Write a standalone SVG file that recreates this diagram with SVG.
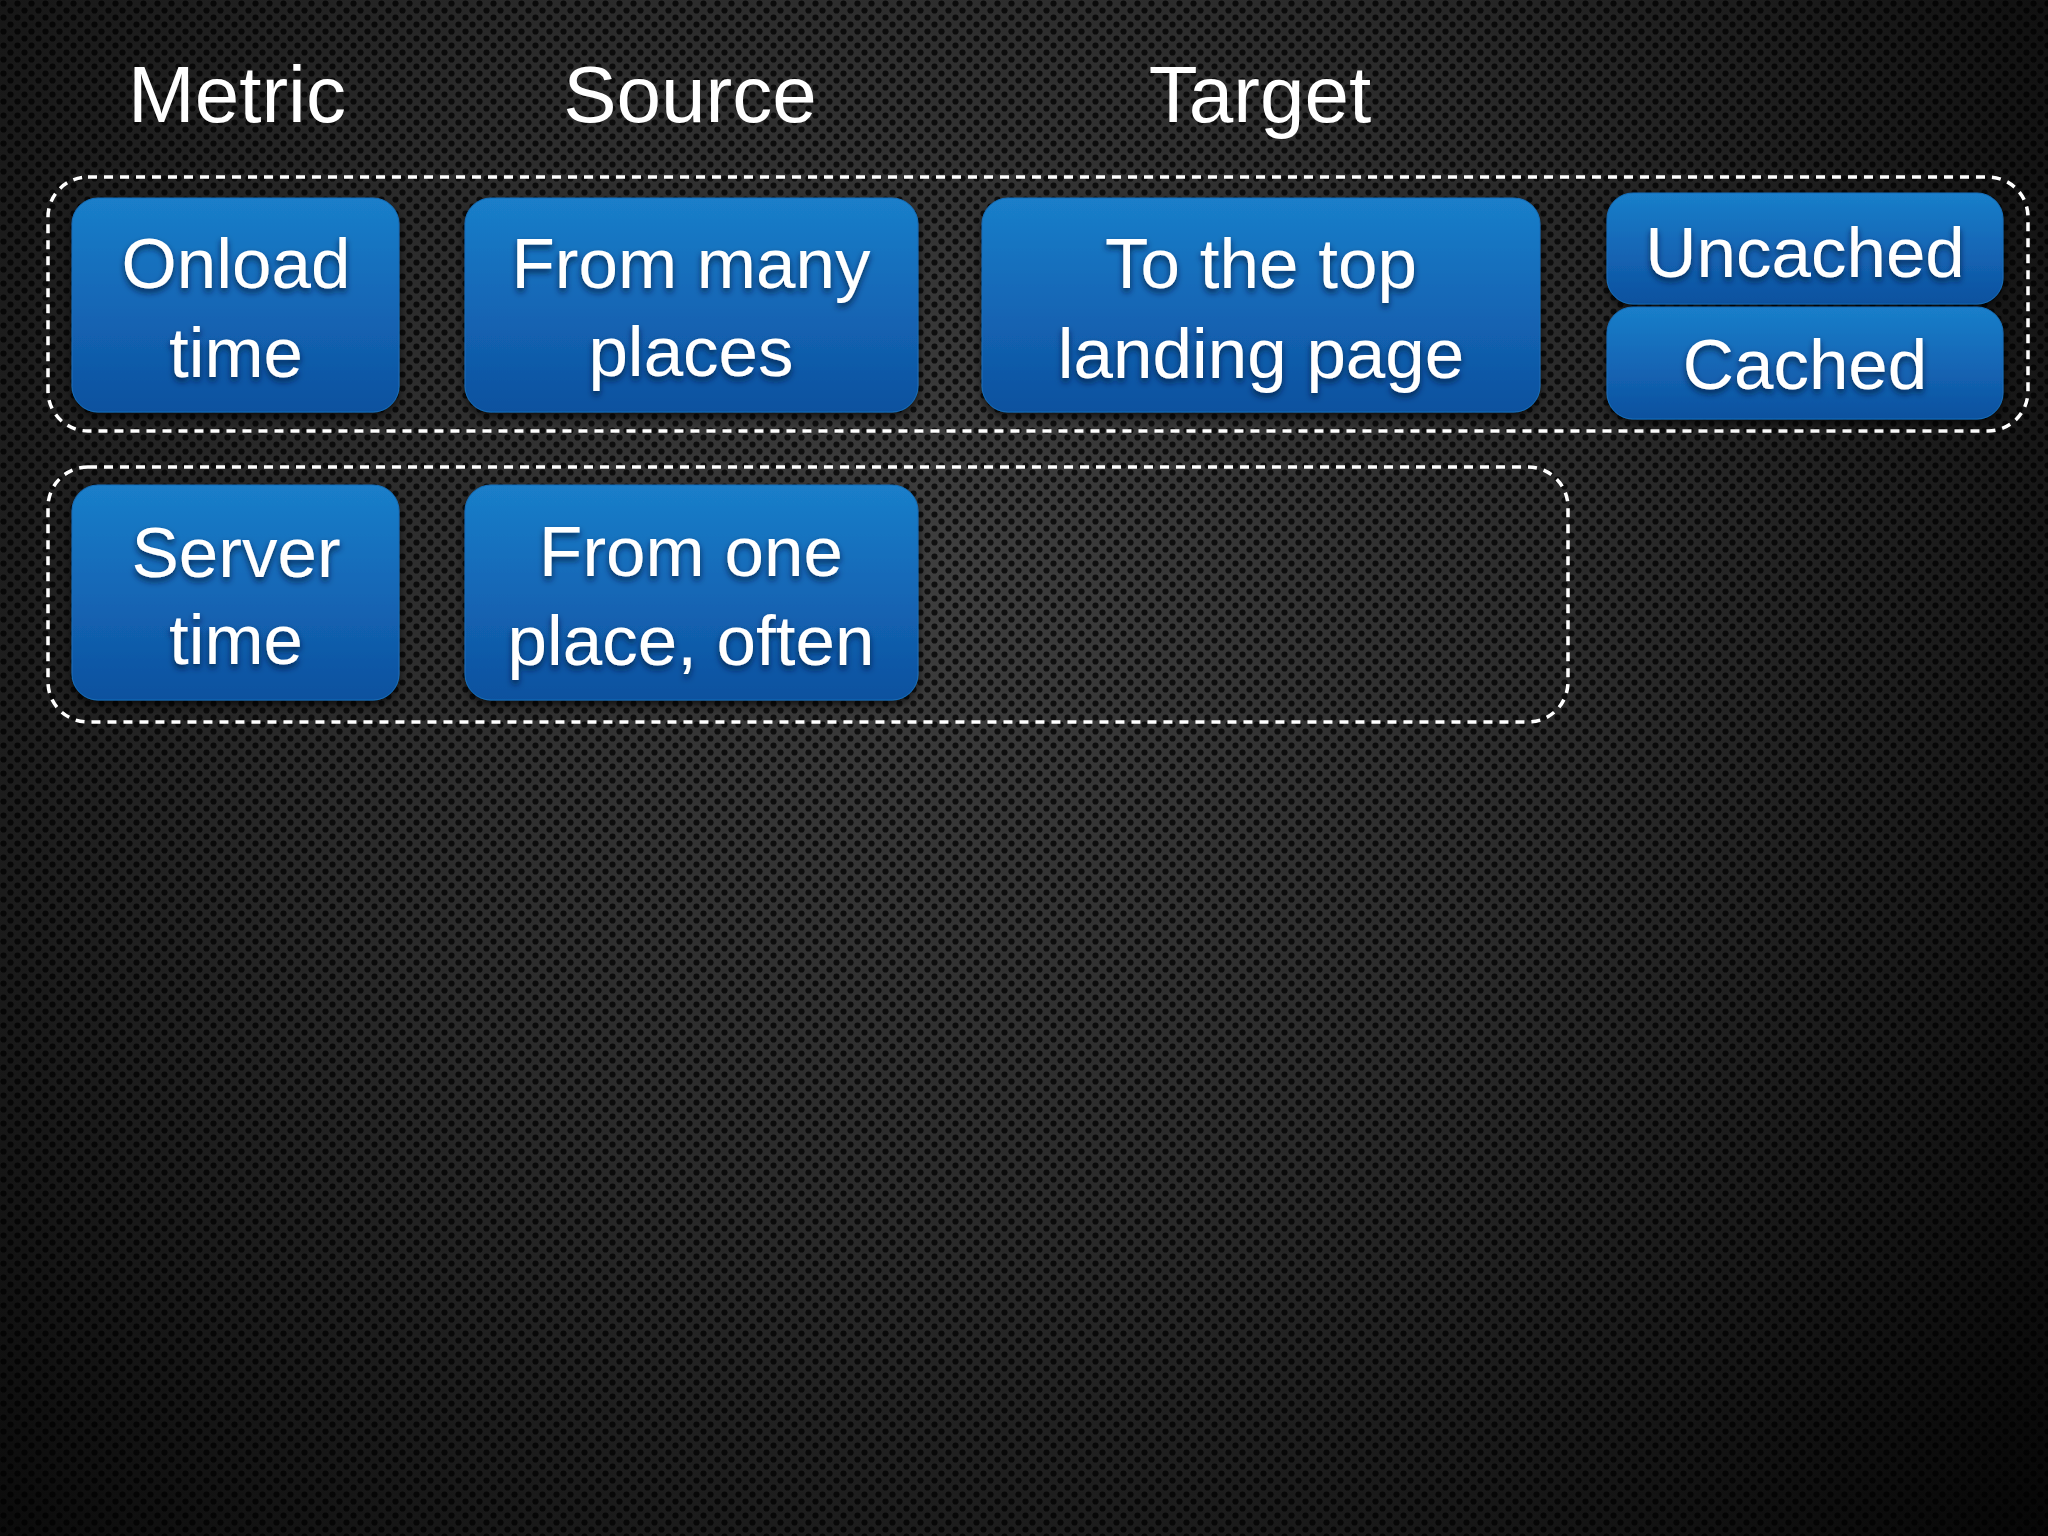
<svg xmlns="http://www.w3.org/2000/svg" width="2048" height="1536" viewBox="0 0 2048 1536">
  <defs>
    <radialGradient id="bg" gradientUnits="userSpaceOnUse" cx="950" cy="560" r="1500">
      <stop offset="0" stop-color="#3e3e3e"/>
      <stop offset="0.45" stop-color="#2a2a2a"/>
      <stop offset="0.8" stop-color="#121212"/>
      <stop offset="1" stop-color="#050505"/>
    </radialGradient>
    <pattern id="holes" patternUnits="userSpaceOnUse" width="14" height="14">
      <circle cx="3.5" cy="3.5" r="3.1" fill="#000" fill-opacity="0.75"/>
      <circle cx="10.5" cy="10.5" r="3.1" fill="#000" fill-opacity="0.75"/>
    </pattern>
    <linearGradient id="boxfill" x1="0" y1="0" x2="0" y2="1">
      <stop offset="0" stop-color="#1a7fca"/>
      <stop offset="0.5" stop-color="#1467b6"/>
      <stop offset="1" stop-color="#0d519f"/>
    </linearGradient>
    <filter id="boxshadow" x="-10%" y="-10%" width="120%" height="130%">
      <feDropShadow dx="0" dy="4" stdDeviation="4" flood-color="#000" flood-opacity="0.7"/>
    </filter>
    <filter id="textshadow" x="-10%" y="-20%" width="120%" height="150%">
      <feDropShadow dx="0" dy="4" stdDeviation="3" flood-color="#001a3a" flood-opacity="0.8"/>
    </filter>
  </defs>
  <style>
    .head { font-family: "Liberation Sans", Arial, sans-serif; font-size: 80px; fill: #ffffff; text-anchor: middle; }
    .lbl { font-family: "Liberation Sans", Arial, sans-serif; font-size: 71px; fill: #ffffff; text-anchor: middle; filter: url(#textshadow); }
    .box { fill: url(#boxfill); stroke: #166db9; stroke-width: 1; filter: url(#boxshadow); }
    .grp { fill: none; stroke: #ffffff; stroke-width: 3.5; stroke-dasharray: 9 7; }
  </style>

  <rect x="0" y="0" width="2048" height="1536" fill="url(#bg)"/>
  <rect x="0" y="0" width="2048" height="1536" fill="url(#holes)"/>

  <g id="headers">
    <text class="head" x="237" y="122">Metric</text>
    <text class="head" x="690" y="122">Source</text>
    <text class="head" x="1260" y="122">Target</text>
  </g>

  <g id="groups">
    <rect id="group-row1" class="grp" x="48" y="177" width="1980" height="254" rx="40" ry="40"/>
    <rect id="group-row2" class="grp" x="48" y="467" width="1520" height="255" rx="40" ry="40"/>
  </g>

  <g id="connectors"></g>

  <g id="node-onload">
    <rect class="box" x="72" y="198" width="327" height="214" rx="26" ry="26"/>
    <text class="lbl" x="236" y="288">Onload</text>
    <text class="lbl" x="236" y="377">time</text>
  </g>
  <g id="node-from-many">
    <rect class="box" x="465" y="198" width="453" height="214" rx="26" ry="26"/>
    <text class="lbl" x="691" y="288">From many</text>
    <text class="lbl" x="691" y="376">places</text>
  </g>
  <g id="node-landing">
    <rect class="box" x="982" y="198" width="558" height="214" rx="26" ry="26"/>
    <text class="lbl" x="1261" y="288">To the top</text>
    <text class="lbl" x="1261" y="378">landing page</text>
  </g>
  <g id="node-uncached">
    <rect class="box" x="1607" y="193" width="396" height="111" rx="26" ry="26"/>
    <text class="lbl" x="1805" y="277">Uncached</text>
  </g>
  <g id="node-cached">
    <rect class="box" x="1607" y="307" width="396" height="112" rx="26" ry="26"/>
    <text class="lbl" x="1805" y="389">Cached</text>
  </g>
  <g id="node-server">
    <rect class="box" x="72" y="485" width="327" height="215" rx="26" ry="26"/>
    <text class="lbl" x="236" y="577">Server</text>
    <text class="lbl" x="236" y="664">time</text>
  </g>
  <g id="node-from-one">
    <rect class="box" x="465" y="485" width="453" height="215" rx="26" ry="26"/>
    <text class="lbl" x="691" y="576">From one</text>
    <text class="lbl" x="691" y="665">place, often</text>
  </g>
</svg>
